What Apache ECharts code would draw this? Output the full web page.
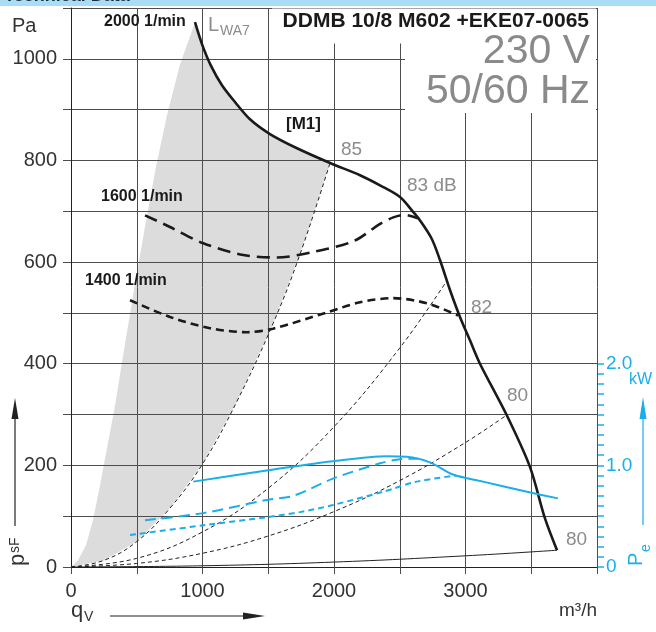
<!DOCTYPE html>
<html><head><meta charset="utf-8">
<script src="https://cdn.jsdelivr.net/npm/echarts@6/dist/echarts.min.js"></script>
<style>html,body{margin:0;padding:0;background:#fff}#c{width:656px;height:632px}</style>
</head><body><div id="c"></div>
<script>
// ---- data (q in m3/h, p in Pa, Pe in kW) ----
const xLabelValues = [0, 1000, 2000, 3000];
const yLabelValues = [0, 200, 400, 600, 800, 1000];
const peLabelValues = [0, 1, 2];
const peLabelTexts = ['0', '1.0', '2.0'];

const curve2000 = [[943,1072],[996,1029],[1065,986],[1148,948],[1247,915],[1361,881],[1513,852],[1719,824],[1970,795],[2198,771],[2350,751],[2502,728],[2601,699],[2654,682],[2743,646],[2806,604],[2882,545],[2958,492],[3034,446],[3110,400],[3313,299],[3490,197],[3605,95],[3696,33]];
const curve1600 = [[563,692],[753,669],[1006,637],[1310,614],[1564,609],[1843,620],[2147,641],[2350,675],[2451,688],[2540,693],[2639,686]];
const curve1400 = [[449,525],[753,492],[1057,470],[1338,462],[1536,469],[1947,501],[2198,521],[2449,529],[2707,519],[2943,495]];

const sys85 = [[0,0],[250,13],[500,50],[750,115],[1006,205],[1260,325],[1538,480],[1741,615],[1970,795]];
const sys82 = [[0,0],[500,17],[1000,69],[1500,155],[2000,276],[2500,431],[2855,562]];
const sys80 = [[0,0],[500,7],[1000,27],[1500,61],[2000,109],[2500,170],[3000,245],[3313,299]];
const sysFree = [[0,0],[1000,2.4],[2000,9.7],[3000,22],[3696,33]];

const lwaLeft = [[0,0],[53,13],[114,43],[167,92],[221,161],[274,234],[335,318],[403,427],[479,545],[563,670],[646,787],[730,889],[829,989],[943,1072]];

const pe2000 = [[930,0.84],[1488,0.95],[1992,1.04],[2401,1.09],[2553,1.085],[2730,1.03],[2905,0.91],[3133,0.84],[3468,0.74],[3703,0.675]];
const pe1600 = [[563,0.46],[1006,0.53],[1488,0.66],[1690,0.70],[1992,0.87],[2350,1.02],[2502,1.06],[2640,1.065]];
const pe1400 = [[449,0.315],[1006,0.41],[1488,0.49],[1741,0.54],[1992,0.61],[2373,0.74],[2629,0.84],[2930,0.90]];

// gray L_WA7 region: left edge up to apex, 2000 curve down to the 85 point, 85 system line back to origin
const grayPoly = lwaLeft.concat(curve2000.filter(p => p[0] > 943 && p[0] <= 1970)).concat(sys85.slice(0, -1).reverse());

const BLUE = '#1aaeea';
const GRID = '#4d4d4d';
const FONT = 'Liberation Sans';
const LBL = '#8c8c8c';

const chart = echarts.init(document.getElementById('c'));
const line = (data, extra) => Object.assign({type:'line', data, symbol:'none', smooth:0.3, xAxisIndex:0, yAxisIndex:0, z:3}, extra);

chart.setOption({
  animation: false,
  grid: [
    {left:71, right:59, top:8, bottom:65},
    {left:71, right:59, top:363.73, bottom:65}
  ],
  xAxis: [
    {type:'value', gridIndex:0, min:0, max:4000, interval:500, z:1.5,
     axisLine:{show:true, lineStyle:{color:'#222', width:1}},
     axisTick:{show:true, length:7, lineStyle:{color:GRID}},
     splitLine:{show:true, lineStyle:{color:GRID, width:1}},
     axisLabel:{margin:14, fontSize:20, color:'#333', fontFamily:FONT,
       formatter: v => xLabelValues.includes(v) ? String(v) : ''}},
    {type:'value', gridIndex:1, min:0, max:4000, show:false}
  ],
  yAxis: [
    {type:'value', gridIndex:0, min:0, max:1100, interval:100, z:1.5,
     axisLine:{show:true, lineStyle:{color:'#222', width:1}},
     axisTick:{show:true, length:8, lineStyle:{color:GRID}},
     splitLine:{show:true, lineStyle:{color:GRID, width:1}},
     axisLabel:{margin:14, fontSize:20, color:'#333', fontFamily:FONT,
       formatter: v => yLabelValues.includes(v) ? String(v) : ''}},
    {type:'value', gridIndex:1, position:'right', min:0, max:2, interval:0.1,
     axisLine:{show:false, onZero:false},
     axisTick:{show:true, inside:false, length:7, lineStyle:{color:BLUE, width:1.5}},
     splitLine:{show:false},
     axisLabel:{margin:9, fontSize:19, color:BLUE, fontFamily:FONT,
       formatter: v => { const i = peLabelValues.findIndex(t => Math.abs(t - v) < 1e-6); return i >= 0 ? peLabelTexts[i] : ''; }}}
  ],
  series: [
    {type:'custom', xAxisIndex:0, yAxisIndex:0, z:1, silent:true,
     data:[grayPoly[0]],
     renderItem:(params, api) => ({type:'polygon', shape:{points: grayPoly.map(p => api.coord(p))}, style:{fill:'#dcdcdc'}})},
    line(sys85, {smooth:0.4, lineStyle:{color:'#222', width:1, type:[4,3]}}),
    line(sys82, {smooth:0.4, lineStyle:{color:'#222', width:1, type:[4,3]}}),
    line(sys80, {smooth:0.4, lineStyle:{color:'#222', width:1, type:[4,3]}}),
    line(sysFree, {smooth:0.4, lineStyle:{color:'#222', width:1}}),
    line(curve2000, {smooth:0.3, lineStyle:{color:'#1a1a1a', width:2.6}}),
    line(curve1600, {lineStyle:{color:'#1a1a1a', width:2.6, type:[13,7]}}),
    line(curve1400, {lineStyle:{color:'#1a1a1a', width:2.6, type:[8,5]}}),
    line(pe2000, {xAxisIndex:1, yAxisIndex:1, lineStyle:{color:BLUE, width:2}}),
    line(pe1600, {xAxisIndex:1, yAxisIndex:1, lineStyle:{color:BLUE, width:2, type:[11,6]}}),
    line(pe1400, {xAxisIndex:1, yAxisIndex:1, lineStyle:{color:BLUE, width:2, type:[6,4]}})
  ],
  graphic: [
    {type:'rect', z:100, shape:{x:0, y:0, width:656, height:6}, style:{fill:'#a9dcf5'}},
    {type:'text', z:101, x:4, y:-13, style:{text:'Technical Data', font:'bold 18px '+FONT, fill:'#1c2b45'}},
    {type:'rect', z:100, shape:{x:272, y:8.5, width:324, height:35}, style:{fill:'#fff'}},
    {type:'rect', z:100, shape:{x:405, y:43, width:191, height:70}, style:{fill:'#fff'}},
    {type:'text', z:101, x:589, y:11, style:{text:'DDMB 10/8 M602 +EKE07-0065', align:'right', font:'bold 21px '+FONT, fill:'#1a1a1a'}},
    {type:'text', z:101, x:590, y:31, style:{text:'230 V', align:'right', font:'41px '+FONT, fill:'#8a8a8a'}},
    {type:'text', z:101, x:590, y:71, style:{text:'50/60 Hz', align:'right', font:'41px '+FONT, fill:'#8a8a8a'}},
    {type:'text', z:101, x:12, y:16, style:{text:'Pa', font:'20px '+FONT, fill:'#333'}},
    {type:'text', z:101, x:104, y:14, style:{text:'2000 1/min', font:'bold 16px '+FONT, fill:'#1a1a1a'}},
    {type:'text', z:101, x:101, y:189, style:{text:'1600 1/min', font:'bold 16px '+FONT, fill:'#1a1a1a'}},
    {type:'text', z:101, x:85, y:273, style:{text:'1400 1/min', font:'bold 16px '+FONT, fill:'#1a1a1a'}},
    {type:'text', z:101, x:286, y:116, style:{text:'[M1]', font:'bold 17px '+FONT, fill:'#1a1a1a'}},
    {type:'text', z:101, x:208, y:15, style:{text:'L', font:'20px '+FONT, fill:LBL}},
    {type:'text', z:101, x:220, y:24, style:{text:'WA7', font:'14px '+FONT, fill:LBL}},
    {type:'text', z:101, x:341, y:140, style:{text:'85', font:'19px '+FONT, fill:LBL}},
    {type:'text', z:101, x:407, y:176, style:{text:'83 dB', font:'19px '+FONT, fill:LBL}},
    {type:'text', z:101, x:471, y:298, style:{text:'82', font:'19px '+FONT, fill:LBL}},
    {type:'text', z:101, x:507, y:386, style:{text:'80', font:'19px '+FONT, fill:LBL}},
    {type:'text', z:101, x:566, y:530, style:{text:'80', font:'19px '+FONT, fill:LBL}},
    // left axis title p_sF with arrow
    {type:'line', z:101, shape:{x1:15, y1:526, x2:15, y2:412}, style:{stroke:'#222', lineWidth:1.2}},
    {type:'polygon', z:101, shape:{points:[[11.5,419],[18.5,419],[15,398]]}, style:{fill:'#222'}},
    {type:'text', z:101, x:29, y:566, rotation:Math.PI/2, style:{text:'p', font:'22px '+FONT, fill:'#333', align:'left', verticalAlign:'bottom'}},
    {type:'text', z:101, x:22, y:553, rotation:Math.PI/2, style:{text:'sF', font:'14px '+FONT, fill:'#333', align:'left', verticalAlign:'bottom'}},
    // bottom q_V with arrow
    {type:'text', z:101, x:71, y:600, style:{text:'q', font:'22px '+FONT, fill:'#333'}},
    {type:'text', z:101, x:84, y:610, style:{text:'V', font:'14px '+FONT, fill:'#333'}},
    {type:'line', z:101, shape:{x1:110, y1:616, x2:248, y2:616}, style:{stroke:'#222', lineWidth:1.2}},
    {type:'polygon', z:101, shape:{points:[[243,612.5],[243,619.5],[265,616]]}, style:{fill:'#222'}},
    {type:'text', z:101, x:597, y:601, style:{text:'m³/h', align:'right', font:'19px '+FONT, fill:'#333'}},
    // right axis title P_e with arrow
    {type:'text', z:101, x:629, y:372, style:{text:'kW', font:'16px '+FONT, fill:BLUE}},
    {type:'line', z:101, shape:{x1:643, y1:525, x2:643, y2:412}, style:{stroke:BLUE, lineWidth:1.2}},
    {type:'polygon', z:101, shape:{points:[[639.5,419],[646.5,419],[643,397]]}, style:{fill:BLUE}},
    {type:'text', z:101, x:646, y:566, rotation:Math.PI/2, style:{text:'P', font:'20px '+FONT, fill:BLUE, align:'left', verticalAlign:'bottom'}},
    {type:'text', z:101, x:653, y:552, rotation:Math.PI/2, style:{text:'e', font:'14px '+FONT, fill:BLUE, align:'left', verticalAlign:'bottom'}}
  ]
});
</script></body></html>
